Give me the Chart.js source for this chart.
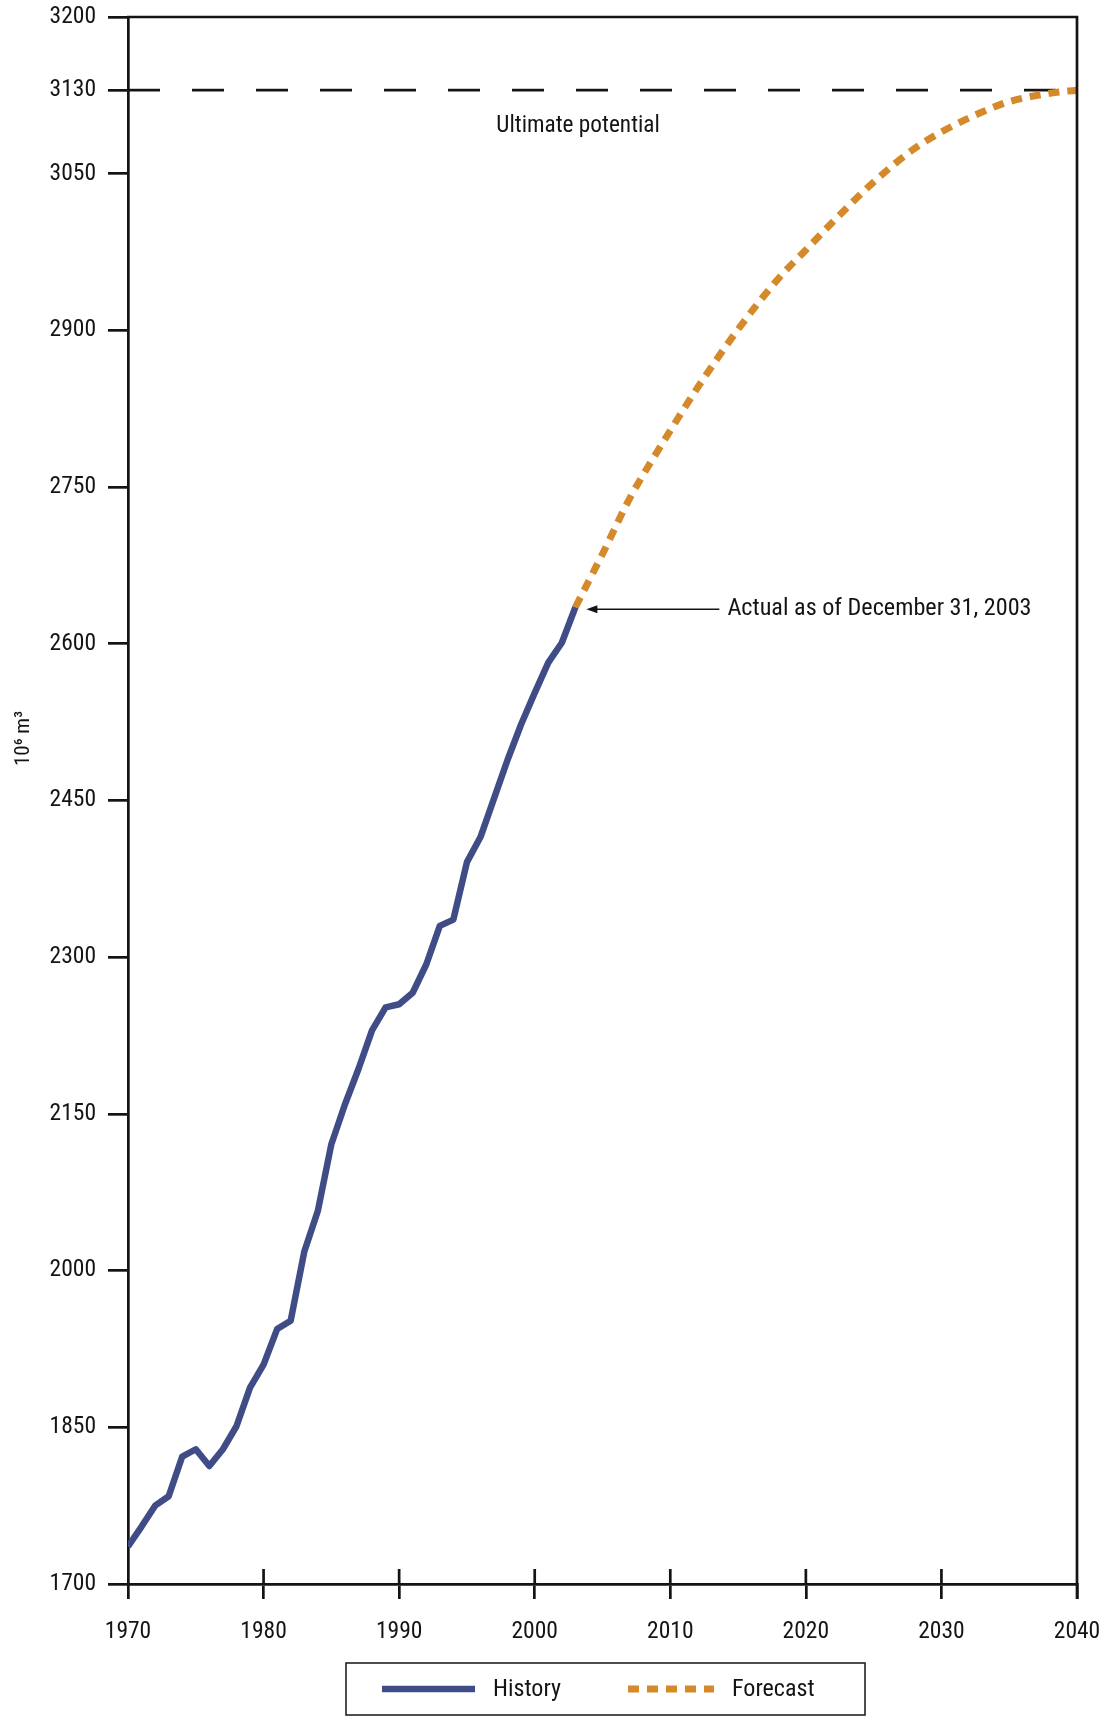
<!DOCTYPE html>
<html>
<head>
<meta charset="utf-8">
<title>Cumulative production, history and forecast</title>
<script src="https://cdn.jsdelivr.net/npm/chart.js@4/dist/chart.umd.min.js"></script>
<style>
  html, body { margin: 0; padding: 0; background: #ffffff; }
  #wrap { position: relative; width: 1110px; height: 1721px; }
</style>
</head>
<body>
<div id="wrap"><canvas id="chart" width="1110" height="1721"></canvas></div>
<script>
// Cumulative production, 10^6 m^3
const historyYears = [1970, 1971, 1972, 1973, 1974, 1975, 1976, 1977, 1978, 1979,
                      1980, 1981, 1982, 1983, 1984, 1985, 1986, 1987, 1988, 1989,
                      1990, 1991, 1992, 1993, 1994, 1995, 1996, 1997, 1998, 1999,
                      2000, 2001, 2002, 2003];
const historyValues = [1736, 1755, 1775, 1784, 1822, 1829, 1813, 1829, 1851, 1888,
                       1910, 1944, 1952, 2018, 2057, 2121, 2159, 2193, 2230, 2252,
                       2255, 2266, 2293, 2330, 2336, 2391, 2415, 2452, 2489, 2523,
                       2553, 2582, 2601, 2635];

const forecastYears = [2003, 2005, 2007, 2010, 2012, 2015, 2018, 2020,
                       2022, 2025, 2028, 2030, 2033, 2035, 2038, 2040];
const forecastValues = [2635, 2686, 2739, 2804, 2845, 2901, 2950, 2977,
                        3004, 3042, 3074, 3090, 3109, 3119, 3127, 3130];

const ultimatePotential = 3130;

const yTickValues = [1700, 1850, 2000, 2150, 2300, 2450, 2600, 2750, 2900, 3050, 3130, 3200];
const xTickValues = [1970, 1980, 1990, 2000, 2010, 2020, 2030, 2040];

const seriesLabels = ['History', 'Forecast'];
const ultimateLabel = 'Ultimate potential';
const actualNote = 'Actual as of December 31, 2003';
const yAxisTitle = '10\u2076 m\u00b3';

const INK = '#141414';
const BLUE = '#3f4c86';
const ORANGE = '#d4892a';

// ---- font selection: prefer a narrow sans face ----
const probe = document.createElement('canvas').getContext('2d');
function textWidth(spec, text) { probe.font = spec; return probe.measureText(text).width; }
function hasFamily(fam) {
  const s = 'mmmmwwwlli 1970 Forecast';
  return textWidth("40px " + fam + ", monospace", s) !== textWidth("40px monospace", s) ||
         textWidth("40px " + fam + ", serif", s) !== textWidth("40px serif", s);
}
function chooseFace() {
  const plain = ["'Liberation Sans Narrow'", "'Arial Narrow'", "'Roboto Condensed'",
                 "'Noto Sans Condensed'", "'Open Sans Condensed'"];
  for (const f of plain) if (hasFamily(f)) return { family: f, stretch: '' };
  for (const f of ["'Noto Sans'", "'Open Sans'", "Roboto", "'DejaVu Sans'"]) {
    if (hasFamily(f) && textWidth('condensed 40px ' + f, '3200 Forecast') < 0.93 * textWidth('40px ' + f, '3200 Forecast')) {
      return { family: f, stretch: 'condensed' };
    }
  }
  if (hasFamily("'DejaVu Sans Condensed'")) return { family: "'DejaVu Sans Condensed'", stretch: '' };
  return { family: "'Liberation Sans', sans-serif", stretch: '' };
}
const FACE = chooseFace();
const FAMILY = FACE.family + ", 'Liberation Sans', sans-serif";
function fontSpec(size) { return (FACE.stretch ? FACE.stretch + ' ' : '') + size.toFixed(1) + 'px ' + FAMILY; }
// size that balances the wanted text width against the wanted glyph height
function fitSize(text, targetWidth, heightSize) {
  const w = textWidth(fontSpec(25), text);
  const widthSize = 25 * targetWidth / w;
  return Math.max(12, Math.min(28, 0.65 * widthSize + 0.35 * heightSize));
}
const SIZE_TICK = fitSize('3200', 45, 25);
const SIZE_NOTE = fitSize(actualNote, 298, 25);
const SIZE_ULT = fitSize(ultimateLabel, 161, 24);
const SIZE_LEG = fitSize('Forecast', 81, 25);
const SIZE_TITLE = 21;
const chartFont = size => ({ family: FAMILY, size: size, weight: FACE.stretch || undefined });

const toPoints = (xs, ys) => xs.map((x, i) => ({ x: x, y: ys[i] }));

// Frame, inner tick marks, annotations and the boxed legend
const decorations = {
  id: 'decorations',
  afterDraw(chart) {
    const ctx = chart.ctx;
    const area = chart.chartArea;
    const xs = chart.scales.x;
    const ys = chart.scales.y;
    ctx.save();

    // top and right edges of the plot frame
    ctx.strokeStyle = INK;
    ctx.lineWidth = 2.7;
    ctx.lineCap = 'butt';
    ctx.beginPath();
    ctx.moveTo(area.left - 1, area.top);
    ctx.lineTo(area.right + 1.3, area.top);
    ctx.moveTo(area.right, area.top);
    ctx.lineTo(area.right, area.bottom + 15);
    ctx.stroke();

    // x tick marks also reach a little way into the plot
    ctx.beginPath();
    xs.ticks.forEach(t => {
      const px = xs.getPixelForValue(t.value);
      if (px > area.left + 2 && px < area.right - 2) {
        ctx.moveTo(px, area.bottom);
        ctx.lineTo(px, area.bottom - 15);
      }
    });
    ctx.stroke();

    // label under the ultimate potential line
    ctx.fillStyle = INK;
    ctx.font = fontSpec(SIZE_ULT);
    ctx.textAlign = 'center';
    ctx.textBaseline = 'middle';
    ctx.fillText(ultimateLabel, xs.getPixelForValue(2003.2), ys.getPixelForValue(ultimatePotential) + 36);

    // arrow pointing at the last historical value
    const lastYear = historyYears[historyYears.length - 1];
    const lastVal = historyValues[historyValues.length - 1];
    const tipX = xs.getPixelForValue(lastYear) + 11;
    const tipY = ys.getPixelForValue(lastVal) + 2;
    ctx.lineWidth = 1.4;
    ctx.beginPath();
    ctx.moveTo(tipX + 6, tipY);
    ctx.lineTo(tipX + 133, tipY);
    ctx.stroke();
    ctx.beginPath();
    ctx.moveTo(tipX, tipY);
    ctx.lineTo(tipX + 11, tipY - 4);
    ctx.lineTo(tipX + 11, tipY + 4);
    ctx.closePath();
    ctx.fill();
    ctx.textAlign = 'left';
    ctx.font = fontSpec(SIZE_NOTE);
    ctx.fillText(actualNote, tipX + 141, tipY);

    // boxed legend under the axis
    const boxW = 519, boxH = 52;
    const boxL = (area.left + area.right) / 2 - boxW / 2 + 3;
    const boxT = chart.height - 58;
    ctx.lineWidth = 1.6;
    ctx.strokeStyle = '#222';
    ctx.strokeRect(boxL, boxT, boxW, boxH);
    const midY = boxT + boxH / 2;
    const items = [
      { ds: chart.data.datasets[0], x0: 36, x1: 129, tx: 147 },
      { ds: chart.data.datasets[1], x0: 282, x1: 368, tx: 386 }
    ];
    items.forEach(it => {
      ctx.save();
      ctx.strokeStyle = it.ds.borderColor;
      ctx.lineWidth = it.ds.borderWidth;
      ctx.setLineDash(it.ds.borderDash || []);
      ctx.beginPath();
      ctx.moveTo(boxL + it.x0, midY);
      ctx.lineTo(boxL + it.x1, midY);
      ctx.stroke();
      ctx.restore();
      ctx.fillStyle = INK;
      ctx.font = fontSpec(SIZE_LEG);
      ctx.textAlign = 'left';
      ctx.textBaseline = 'middle';
      ctx.fillText(it.ds.label, boxL + it.tx, midY + 1);
    });

    // rotated unit label on the left
    ctx.save();
    ctx.translate(24, (area.top + area.bottom) / 2 - 62);
    ctx.rotate(-Math.PI / 2);
    ctx.font = fontSpec(SIZE_TITLE);
    ctx.textAlign = 'center';
    ctx.textBaseline = 'middle';
    ctx.fillStyle = INK;
    ctx.fillText(yAxisTitle, 0, 0);
    ctx.restore();

    ctx.restore();
  }
};

new Chart(document.getElementById('chart'), {
  type: 'line',
  data: {
    datasets: [
      {
        label: seriesLabels[0],
        data: toPoints(historyYears, historyValues),
        borderColor: BLUE,
        borderWidth: 6.5,
        borderJoinStyle: 'round',
        pointRadius: 0,
        tension: 0
      },
      {
        label: seriesLabels[1],
        data: toPoints(forecastYears, forecastValues),
        borderColor: ORANGE,
        borderWidth: 7,
        borderDash: [11, 8],
        pointRadius: 0,
        cubicInterpolationMode: 'monotone'
      },
      {
        label: ultimateLabel,
        data: toPoints([xTickValues[0], xTickValues[xTickValues.length - 1]], [ultimatePotential, ultimatePotential]),
        borderColor: INK,
        borderWidth: 2.7,
        borderDash: [32, 32],
        pointRadius: 0
      }
    ]
  },
  options: {
    responsive: false,
    animation: false,
    events: [],
    layout: { padding: { top: 17, right: 33, bottom: 0, left: 0 } },
    plugins: {
      legend: { display: false },
      tooltip: { enabled: false },
      title: { display: false }
    },
    scales: {
      x: {
        type: 'linear',
        min: xTickValues[0],
        max: xTickValues[xTickValues.length - 1],
        afterBuildTicks: s => { s.ticks = xTickValues.map(v => ({ value: v })); },
        afterFit: s => { s.height = 137; s.paddingLeft = 0; s.paddingRight = 0; },
        border: { display: true, color: INK, width: 2.7 },
        grid: { drawOnChartArea: false, drawTicks: true, tickLength: 15, color: INK, lineWidth: 2.7 },
        ticks: {
          color: INK,
          padding: 19,
          maxRotation: 0,
          autoSkip: false,
          font: chartFont(SIZE_TICK),
          callback: v => String(v)
        }
      },
      y: {
        type: 'linear',
        min: yTickValues[0],
        max: yTickValues[yTickValues.length - 1],
        afterBuildTicks: s => { s.ticks = yTickValues.map(v => ({ value: v })); },
        afterFit: s => { s.width = 128; s.paddingTop = 0; s.paddingBottom = 0; },
        border: { display: true, color: INK, width: 2.7 },
        grid: { drawOnChartArea: false, drawTicks: true, tickLength: 20, color: INK, lineWidth: 2.7 },
        ticks: {
          color: INK,
          padding: 12,
          autoSkip: false,
          font: chartFont(SIZE_TICK),
          callback: v => String(v)
        },
        title: { display: false }
      }
    }
  },
  plugins: [decorations]
});
</script>
</body>
</html>
